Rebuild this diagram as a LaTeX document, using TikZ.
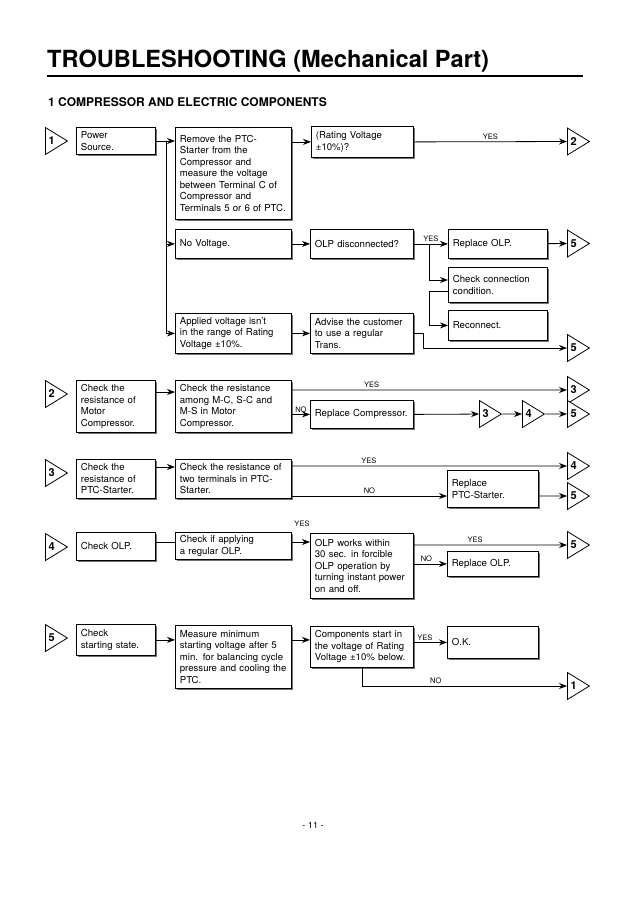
\documentclass[tikz,border=0pt]{standalone}
\usepackage{fontspec}
\setmainfont{TeX Gyre Heros}
\usetikzlibrary{shapes.geometric, shadows, arrows.meta, calc}

\tikzset{
  box/.style={draw, line width=0.8pt, fill=white, anchor=north west, align=left,
    inner xsep=4.5pt, inner ysep=3pt, text width=#1,
    font=\fontsize{9.6}{11.5}\selectfont,
    drop shadow={shadow xshift=2pt, shadow yshift=-2pt, fill=black!55, opacity=1}},
  flag/.style={draw, line width=0.8pt, fill=white, isosceles triangle,
    isosceles triangle stretches, minimum width=27pt, minimum height=22pt,
    inner sep=0pt, anchor=west, font=\fontsize{11}{13}\selectfont\bfseries},
  arr/.style={line width=0.8pt, -{Stealth[length=8pt,width=6pt]}},
  wire/.style={line width=0.8pt},
  lbl/.style={font=\fontsize{7.5}{9}\selectfont, inner sep=1.5pt},
  ttl/.style={font=\fontsize{23.6}{28}\selectfont\bfseries, inner sep=0pt},
  sub/.style={font=\fontsize{12}{14}\selectfont\bfseries, inner sep=0pt}
}

\begin{document}
\begin{tikzpicture}[x=1pt,y=1pt,yscale=-1,xscale=1]
    \useasboundingbox[fill=white] (0,0) rectangle (638,903);

    % Title
    \node[ttl, anchor=base west] (title) at (47,67) {TROUBLESHOOTING (Mechanical Part)};
    \draw[line width=2pt] (47,75.5) -- (583,75.5);
    \node[sub, anchor=base west] (sect) at (48,106) {1 COMPRESSOR AND ELECTRIC COMPONENTS};

    % Row 1
    \node[flag] (f1a) at (45,141) {1};
    \node[box=70pt, minimum height=27pt] (pwr) at (76,127) {Power\\Source.};
    \node[box=107pt, minimum height=92pt] (rmv) at (175,127) {Remove the PTC-\\Starter from the\\Compressor and\\measure the voltage\\between Terminal C of\\Compressor and\\Terminals 5 or 6 of PTC.};
    \node[box=93pt, minimum height=31pt] (rat) at (311,126) {(Rating Voltage\\±10\%)?};
    \node[flag] (f2a) at (567,141.5) {2};
    \node[box=107pt, minimum height=29pt] (nov) at (175,229) {No Voltage.};
    \node[box=94pt, minimum height=29pt] (olp) at (310,229) {OLP disconnected?};
    \node[box=90pt, minimum height=29pt] (rolp) at (448,229) {Replace OLP.};
    \node[flag] (f5a) at (567,243.5) {5};
    \node[box=90pt, minimum height=35pt] (chk) at (448,267) {Check connection\\condition.};
    \node[box=90pt, minimum height=30pt] (rec) at (448,310) {Reconnect.};
    \node[box=107pt, minimum height=40pt] (app) at (175,313) {Applied voltage isn't\\in the range of Rating\\Voltage ±10\%.};
    \node[box=94pt, minimum height=40pt] (adv) at (310,313) {Advise the customer\\to use a regular\\Trans.};
    \node[flag] (f5b) at (567,348) {5};

    \coordinate (sp1) at (166,141);
    \coordinate (sp2) at (429,243.5);
    \draw[arr] (pwr.east |- sp1) -- (rmv.west |- sp1);
    \draw[arr] (sp1) |- (nov.west);
    \draw[arr] (sp1) |- (app.west);
    \draw[arr] (rmv.east |- rat.west) -- (rat.west);
    \draw[arr] (rat.east) -- (f2a) node[lbl, above, midway] (y1) {YES};
    \draw[arr] (nov) -- (olp);
    \draw[arr] (olp) -- (rolp) node[lbl, above, midway] (y2) {YES};
    \draw[arr] (sp2) |- ($(chk.north west)+(0,13)$);
    \draw[arr] ($(chk.north west)+(0,24)$) -| (sp2 |- rec.west) -- (rec.west);
    \draw[arr] (rolp) -- (f5a);
    \draw[arr] (app) -- (adv);
    \draw[arr] (adv.east) -- ++(10,0) |- (f5b);

    % Row 2
    \node[flag] (f2b) at (45,394) {2};
    \node[box=70pt, minimum height=52pt] (r2a) at (76,380) {Check the\\resistance of\\Motor\\Compressor.};
    \node[box=107pt, minimum height=52pt] (r2b) at (175,380) {Check the resistance\\among M-C, S-C and\\M-S in Motor\\Compressor.};
    \node[box=94pt, minimum height=28pt] (rcmp) at (310,400) {Replace Compressor.};
    \node[flag] (f3a) at (567,390) {3};
    \node[flag] (f3b) at (479,414) {3};
    \node[flag] (f4a) at (522,414) {4};
    \node[flag] (f5c) at (567,414) {5};

    \draw[arr] ($(r2a.north east)+(0,12)$) -- ($(r2b.north west)+(0,12)$);
    \draw[arr] (f3a -| r2b.east) -- (f3a) node[lbl, above, pos=0.29] (y3) {YES};
    \draw[arr] (rcmp.west -| r2b.east) -- (rcmp.west) node[lbl, above, midway] (n1) {NO};
    \draw[arr] (rcmp.east) -- (f3b);
    \draw[arr] (f3b) -- (f4a);
    \draw[arr] (f4a) -- (f5c);

    % Row 3
    \node[flag] (f3c) at (45,473) {3};
    \node[box=70pt, minimum height=39pt] (r3a) at (76,459) {Check the\\resistance of\\PTC-Starter.};
    \node[box=107pt, minimum height=39pt] (r3b) at (175,459) {Check the resistance of\\two terminals in PTC-\\Starter.};
    \node[box=82pt, minimum height=37pt] (rptc) at (447,470) {Replace\\PTC-Starter.};
    \node[flag] (f4b) at (567,466) {4};
    \node[flag] (f5d) at (567,496) {5};

    \draw[arr] ($(r3a.north east)+(0,8)$) -- ($(r3b.north west)+(0,8)$);
    \draw[arr] (f4b -| r3b.east) -- (f4b) node[lbl, above, pos=0.28] (y4) {YES};
    \draw[arr] (f5d -| r3b.east) -- (f5d -| rptc.west) node[lbl, above, midway] (n2) {NO};
    \draw[arr] (f5d -| rptc.east) -- (f5d);

    % Row 4
    \node[flag] (f4c) at (45,547) {4};
    \node[box=70pt, minimum height=28pt] (r4a) at (76,532) {Check OLP.};
    \node[box=107pt, minimum height=27pt] (r4b) at (175,532) {Check if applying\\a regular OLP.};
    \node[box=94pt, minimum height=65pt] (r4c) at (310,533) {OLP works within\\30 sec. in forcible\\OLP operation by\\turning instant power\\on and off.};
    \node[box=82pt, minimum height=25pt] (rolp2) at (447,551) {Replace OLP.};
    \node[flag] (f5e) at (567,545) {5};
    \node[lbl] (y5) at ($(r4c.north west)+(-8,-9)$) {YES};

    \coordinate (j4) at ($(r4b.north east)+(0,10)$);
    \draw[wire] ($(r4a.north east)+(0,10)$) -- ($(r4b.north west)+(0,10)$);
    \draw[arr] (j4) -- (j4 -| r4c.west);
    \draw[arr] (f5e -| r4c.east) -- (f5e) node[lbl, above, pos=0.4] (y6) {YES};
    \draw[arr] (rolp2.west -| r4c.east) -- (rolp2.west) node[lbl, above, pos=0.38] (n3) {NO};

    % Row 5
    \node[flag] (f5f) at (45,638) {5};
    \node[box=70pt, minimum height=31pt] (r5a) at (76,624) {Check\\starting state.};
    \node[box=107pt, minimum height=63pt] (r5b) at (175,625) {Measure minimum\\starting voltage after 5\\min. for balancing cycle\\pressure and cooling the\\PTC.};
    \node[box=94pt, minimum height=41pt] (r5c) at (310,626) {Components start in\\the voltage of Rating\\Voltage ±10\% below.};
    \node[box=82pt, minimum height=32pt] (ok) at (447,626) {O.K.};
    \node[flag] (f1b) at (567,686) {1};

    \draw[arr] (r5a.east) -- (r5a.east -| r5b.west);
    \draw[arr] (r5a.east -| r5b.east) -- (r5a.east -| r5c.west);
    \draw[arr] (ok.west -| r5c.east) -- (ok.west) node[lbl, above, pos=0.33] (y7) {YES};
    \draw[arr] (r5c.south) |- (f1b) node[lbl, above, pos=0.68] (n4) {NO};

    % Page number
    \node[font=\fontsize{9}{11}\selectfont] (pg) at (313,825) {- 11 -};
\end{tikzpicture}
\end{document}
